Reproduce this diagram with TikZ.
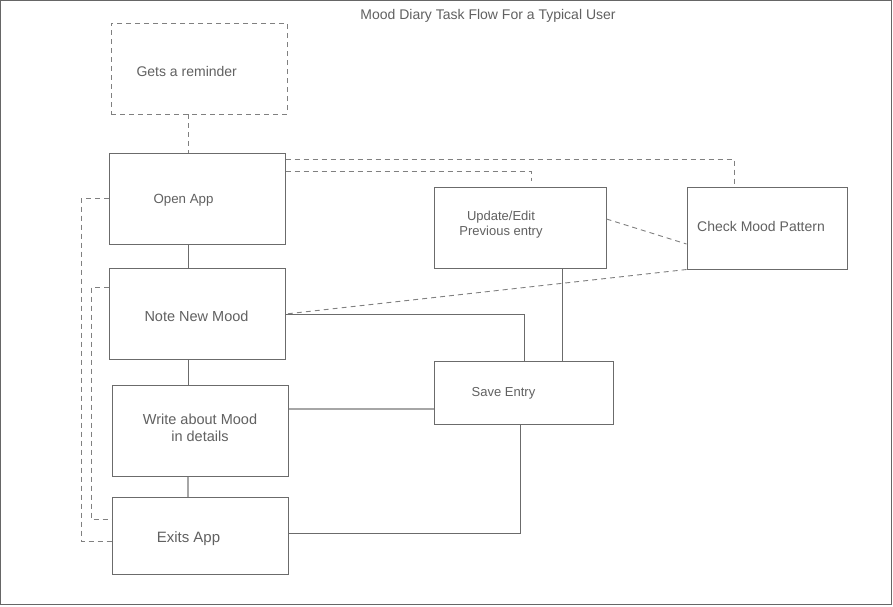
\documentclass[tikz,border=0pt]{standalone}
\usepackage{fontspec}
\setmainfont{Liberation Sans}
\begin{document}
\begin{tikzpicture}[x=1pt,y=-1pt,
  lbl/.style={text=black!62, font=\fontsize{14}{16.5}\selectfont, align=center},
  stepbox/.style={draw=black!58, line width=1pt, inner sep=0pt},
  link/.style={draw=black!58, line width=1pt},
  softlink/.style={draw=black!35, line width=1.2pt},
  dlink/.style={draw=black!50, line width=0.9pt, dash pattern=on 5pt off 4pt},
]
% page frame
\draw[draw=black!60, line width=1.2pt, fill=white] (0.6,0.6) rectangle (891.4,604.4);
\useasboundingbox (0,0) rectangle (893,606);

\node[lbl] (title) at (488,15.5) {Mood Diary Task Flow For a Typical User};

% boxes
\node[stepbox, dlink, minimum width=176pt, minimum height=91pt] (remind) at (199,68.5) {};
\node[lbl, anchor=west] at (133,71) {Gets a reminder};

\node[stepbox, minimum width=176pt, minimum height=91pt] (open) at (197,198.5) {};
\node[lbl, font=\fontsize{13.3}{15.5}\selectfont] at (183.5,200) {Open App};

\node[stepbox, minimum width=176pt, minimum height=91pt] (note) at (197,313.5) {};
\node[lbl, font=\fontsize{14.5}{17}\selectfont] at (196.5,316.5) {Note New Mood};

\node[stepbox, minimum width=176pt, minimum height=91pt] (write) at (200,430.5) {};
\node[lbl, font=\fontsize{14.5}{17}\selectfont] at (200,428) {Write about Mood\\in details};

\node[stepbox, minimum width=176pt, minimum height=77pt] (exits) at (200,535.5) {};
\node[lbl, font=\fontsize{15}{17}\selectfont] at (188.5,538.5) {Exits App};

\node[stepbox, minimum width=172pt, minimum height=81pt] (update) at (520,227.5) {};
\node[lbl, font=\fontsize{13}{15}\selectfont] at (501,224.5) {Update/Edit\\Previous entry};

\node[stepbox, minimum width=160pt, minimum height=82pt] (check) at (767,228) {};
\node[lbl] at (761,226.5) {Check Mood Pattern};

\node[stepbox, minimum width=179pt, minimum height=63pt] (save) at (523.5,392.5) {};
\node[lbl, font=\fontsize{13}{15}\selectfont] at (503.5,393.5) {Save Entry};

% solid flow
\draw[link] (open.south -| 188,0) -- (note.north -| 188,0);
\draw[link] (note.south -| 188,0) -- (write.north -| 188,0);
\draw[softlink] (write.south -| 188,0) -- (exits.north -| 188,0);
\draw[link] (note.east |- 0,314) -- (524,314) -- (save.north -| 524,0);
\draw[link] (update.south -| 562,0) -- (save.north -| 562,0);
\draw[softlink] (write.east |- 0,409) -- (save.west |- 0,409);
\draw[link] (save.south -| 520,0) -- (520,533) -- (exits.east |- 0,533);

% dashed links
\draw[dlink] (remind.south -| 188,0) -- (open.north -| 188,0);
\draw[dlink] (open.west |- 0,198) -- (81,198) -- (81,541) -- (exits.west |- 0,541);
\draw[dlink] (note.west |- 0,287) -- (91,287) -- (91,519) -- (exits.west |- 0,519);
\draw[dlink] (open.east |- 0,159) -- (734,159) -- (check.north -| 734,0);
\coordinate (updtop) at (531,181);
\draw[dlink] (open.east |- 0,171) -- (531,171) -- (updtop);
\draw[dlink] (update.east |- 0,219) -- (check.west |- 0,244);
\draw[dlink] (check.south west) -- (note.east |- 0,314);
\end{tikzpicture}
\end{document}
